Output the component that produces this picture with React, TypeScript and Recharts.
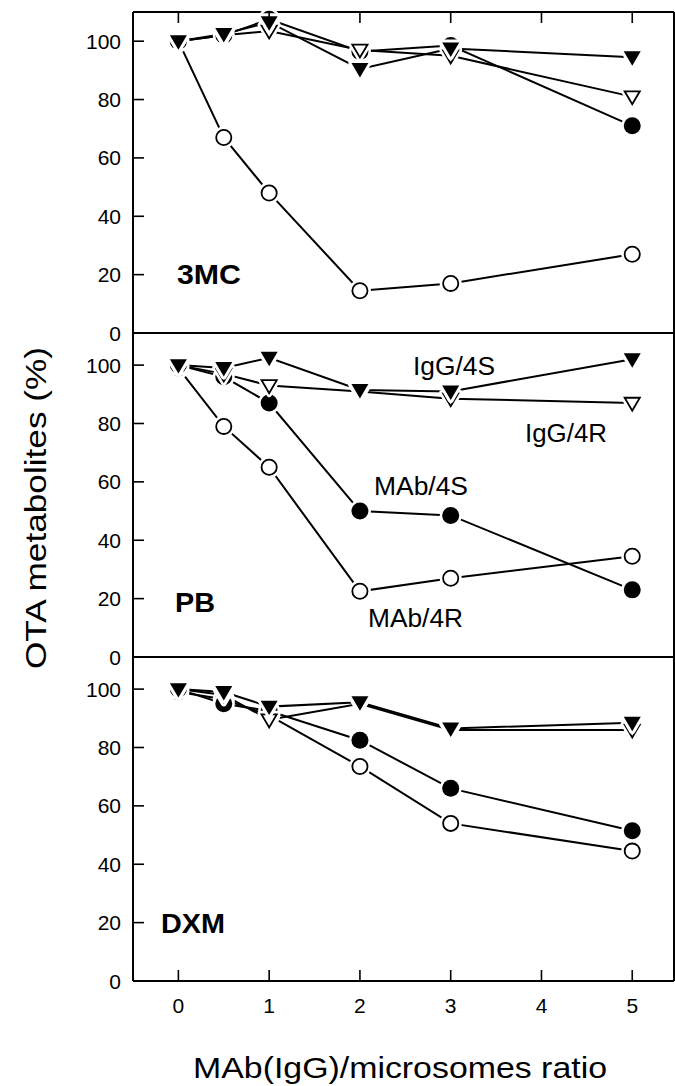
import React from "react";
import { LineChart, Line, XAxis, YAxis } from "recharts";

// x positions (MAb or IgG / microsomes ratio)
const ratio = [0, 0.5, 1, 2, 3, 5];
const xTicks = [0, 1, 2, 3, 4, 5];
const yTicks = [0, 20, 40, 60, 80, 100];

// 3MC microsomes
const igg4s3mc = [100, 102.5, 106.5, 90.5, 97.5, 94.5];
const igg4r3mc = [100, 102, 103.5, 97, 95, 81];
const mab4s3mc = [100, 102, 107.5, 96.5, 98.5, 71];
const mab4r3mc = [100, 67, 48, 14.5, 17, 27];

// PB microsomes
const igg4sPb = [100, 99, 102.5, 91.5, 91, 102];
const igg4rPb = [100, 97, 93, 91, 88.5, 87];
const mab4sPb = [100, 96, 87, 50, 48.5, 23];
const mab4rPb = [99, 79, 65, 22.5, 27, 34.5];

// DXM microsomes
const igg4sDxm = [100, 99, 94, 95.5, 86.5, 88.5];
const igg4rDxm = [100, 98, 89.5, 95, 86, 86];
const mab4sDxm = [100, 95, 92.5, 82.5, 66, 51.5];
const mab4rDxm = [99, 96.5, 91, 73.5, 54, 44.5];

const FONT = "'Liberation Sans', Arial, Helvetica, sans-serif";
const TICK = 11;

const toRows = (a: number[], b: number[], c: number[], d: number[]) =>
  ratio.map((x, i) => ({ x, igg4s: a[i], igg4r: b[i], mab4s: c[i], mab4r: d[i] }));

const data3mc = toRows(igg4s3mc, igg4r3mc, mab4s3mc, mab4r3mc);
const dataPb = toRows(igg4sPb, igg4rPb, mab4sPb, mab4rPb);
const dataDxm = toRows(igg4sDxm, igg4rDxm, mab4sDxm, mab4rDxm);

type Shape = "filledTri" | "openTri" | "filledCircle" | "openCircle";

const triPath = (cx: number, cy: number, s: number) =>
  `M${cx - s},${cy - s * 0.7} L${cx + s},${cy - s * 0.7} L${cx},${cy + s} Z`;

const makeDot = (shape: Shape) => (props: any) => {
  const { cx, cy, index } = props;
  if (cx == null || cy == null) return <g key={`n${index}`} />;
  if (shape === "filledCircle" || shape === "openCircle") {
    const open = shape === "openCircle";
    return (
      <g key={`d${index}`}>
        <circle cx={cx} cy={cy} r={11} fill="#fff" />
        <circle
          cx={cx}
          cy={cy}
          r={open ? 7.6 : 8.5}
          fill={open ? "#fff" : "#000"}
          stroke="#000"
          strokeWidth={open ? 1.8 : 0}
        />
      </g>
    );
  }
  const open = shape === "openTri";
  return (
    <g key={`d${index}`}>
      <path d={triPath(cx, cy, 8.5)} fill="#fff" stroke="#fff" strokeWidth={6} strokeLinejoin="round" />
      <path
        d={triPath(cx, cy, open ? 7.6 : 8.5)}
        fill={open ? "#fff" : "#000"}
        stroke="#000"
        strokeWidth={open ? 1.8 : 0}
        strokeLinejoin="miter"
      />
    </g>
  );
};

const leftTick = (props: any) => {
  const { x, y, payload } = props;
  return (
    <g>
      <line x1={x} y1={y} x2={x + TICK} y2={y} stroke="#000" strokeWidth={1.6} />
      <text x={x - 12} y={y + 7.5} textAnchor="end" fontSize={21} fontFamily={FONT} fill="#000">
        {payload.value}
      </text>
    </g>
  );
};

const rightTick = (props: any) => {
  const { x, y } = props;
  return <line x1={x} y1={y} x2={x - TICK} y2={y} stroke="#000" strokeWidth={1.6} />;
};

const topTick = (props: any) => {
  const { x, y } = props;
  return <line x1={x} y1={y} x2={x} y2={y + TICK} stroke="#000" strokeWidth={1.6} />;
};

const bottomTick = (props: any) => {
  const { x, y, payload } = props;
  return (
    <g>
      <line x1={x} y1={y} x2={x} y2={y - TICK} stroke="#000" strokeWidth={1.6} />
      <text x={x} y={y + 32} textAnchor="middle" fontSize={21} fontFamily={FONT} fill="#000">
        {payload.value}
      </text>
    </g>
  );
};

const noTick = () => <g />;

const axisLine = { stroke: "#000", strokeWidth: 2 };

interface PanelProps {
  data: ReturnType<typeof toRows>;
  top: number;
  height: number;
  yMax: number;
  position: "top" | "middle" | "bottom";
}

const Panel: React.FC<PanelProps> = ({ data, top, height, yMax, position }) => {
  const isTop = position === "top";
  const isBottom = position === "bottom";
  // axes are 1px thick so they still render; margins compensate
  const margin = {
    top: isTop ? 11 : 12,
    right: 0,
    bottom: isBottom ? 104 : 11,
    left: 0,
  };
  return (
    <div style={{ position: "absolute", left: 0, top }}>
      <LineChart width={675} height={height} data={data} margin={margin}>
        <XAxis
          xAxisId="x"
          dataKey="x"
          type="number"
          domain={[-0.5, 5.46]}
          ticks={xTicks}
          interval={0}
          orientation={isTop ? "top" : "bottom"}
          height={1}
          tickSize={0}
          tickMargin={0}
          tickLine={false}
          axisLine={axisLine}
          tick={isTop ? topTick : isBottom ? bottomTick : noTick}
        />
        {isTop && (
          <XAxis
            xAxisId="b"
            dataKey="x"
            type="number"
            domain={[-0.5, 5.46]}
            ticks={xTicks}
            orientation="bottom"
            height={1}
            tickSize={0}
            tick={noTick}
            tickLine={false}
            axisLine={axisLine}
          />
        )}
        <YAxis
          yAxisId="l"
          type="number"
          domain={[0, yMax]}
          ticks={yTicks}
          interval={0}
          width={133}
          tickSize={0}
          tickMargin={0}
          tickLine={false}
          axisLine={axisLine}
          tick={leftTick}
        />
        <YAxis
          yAxisId="r"
          orientation="right"
          type="number"
          domain={[0, yMax]}
          ticks={yTicks}
          interval={0}
          width={1}
          tickSize={0}
          tickMargin={0}
          tickLine={false}
          axisLine={axisLine}
          tick={rightTick}
        />
        <Line xAxisId="x" yAxisId="l" dataKey="mab4r" stroke="#000" strokeWidth={2} dot={makeDot("openCircle")} isAnimationActive={false} />
        <Line xAxisId="x" yAxisId="l" dataKey="mab4s" stroke="#000" strokeWidth={2} dot={makeDot("filledCircle")} isAnimationActive={false} />
        <Line xAxisId="x" yAxisId="l" dataKey="igg4r" stroke="#000" strokeWidth={2} dot={makeDot("openTri")} isAnimationActive={false} />
        <Line xAxisId="x" yAxisId="l" dataKey="igg4s" stroke="#000" strokeWidth={2} dot={makeDot("filledTri")} isAnimationActive={false} />
      </LineChart>
    </div>
  );
};

const App: React.FC = () => {
  return (
    <div style={{ position: "absolute", left: 0, top: 0, width: 675, height: 1086, background: "#fff", overflow: "hidden" }}>
      <Panel data={data3mc} top={0} height={345} yMax={110} position="top" />
      <Panel data={dataPb} top={321} height={348} yMax={111} position="middle" />
      <Panel data={dataDxm} top={645} height={441} yMax={111} position="bottom" />
      <svg width={675} height={1086} style={{ position: "absolute", left: 0, top: 0, pointerEvents: "none" }}>
        <g fontFamily={FONT} fill="#000">
          <text x={177} y={284} fontSize={28} fontWeight="bold" textLength={64} lengthAdjust="spacingAndGlyphs">3MC</text>
          <text x={175} y={612} fontSize={28} fontWeight="bold" textLength={40} lengthAdjust="spacingAndGlyphs">PB</text>
          <text x={161} y={933} fontSize={28} fontWeight="bold" textLength={64} lengthAdjust="spacingAndGlyphs">DXM</text>
          <text x={413} y={375} fontSize={26} textLength={82} lengthAdjust="spacingAndGlyphs">IgG/4S</text>
          <text x={525} y={442} fontSize={26} textLength={82} lengthAdjust="spacingAndGlyphs">IgG/4R</text>
          <text x={374} y={495} fontSize={26} textLength={94} lengthAdjust="spacingAndGlyphs">MAb/4S</text>
          <text x={368} y={627} fontSize={26} textLength={95} lengthAdjust="spacingAndGlyphs">MAb/4R</text>
          <text x={193} y={1078} fontSize={30} textLength={414} lengthAdjust="spacingAndGlyphs">MAb(IgG)/microsomes ratio</text>
          <text transform="translate(46,508) rotate(-90)" fontSize={29} textAnchor="middle" textLength={322} lengthAdjust="spacingAndGlyphs">OTA metabolites (%)</text>
        </g>
      </svg>
    </div>
  );
};

export default App;
